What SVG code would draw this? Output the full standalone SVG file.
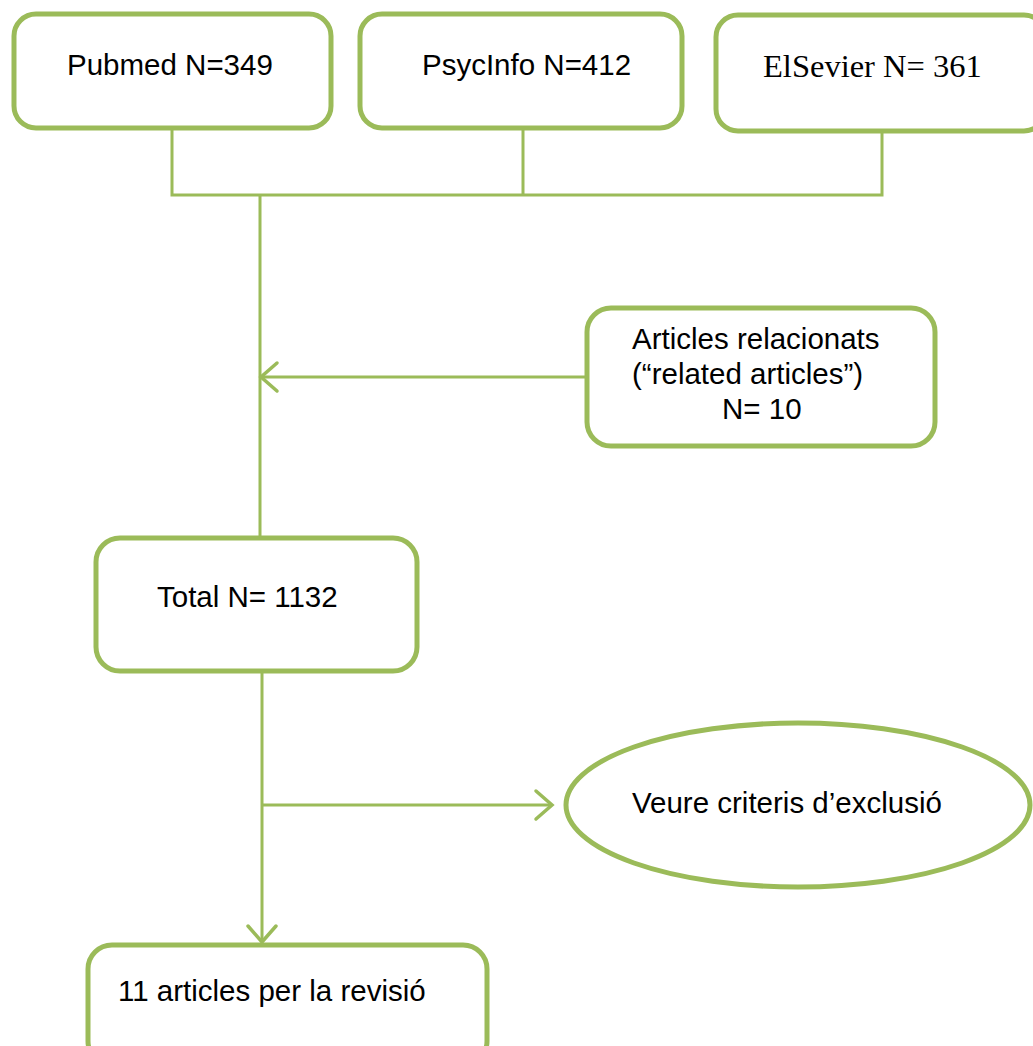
<svg xmlns="http://www.w3.org/2000/svg" width="1033" height="1046" viewBox="0 0 1033 1046">
<style>
.box{fill:#fff;stroke:#9BBB59;stroke-width:5}
.ln{fill:none;stroke:#9BBB59;stroke-width:3}
.t{font-family:"Liberation Sans",Arial,sans-serif;font-size:29.5px;fill:#000}
.ts{font-family:"Liberation Serif","Times New Roman",serif;font-size:32.5px;fill:#000}
</style>
<defs>
<marker id="arr" markerUnits="userSpaceOnUse" markerWidth="26" markerHeight="34" refX="22" refY="17" orient="auto" viewBox="0 0 26 34">
<path d="M6,3 L22,17 L6,31" fill="none" stroke="#9BBB59" stroke-width="3.5" stroke-linecap="round"/>
</marker>
</defs>
<rect width="1033" height="1046" fill="#fff"/>
<g id="connectors">
<path class="ln" d="M172,128 V195 H882 V131 M523,128 V195 M260,195 V538"/>
<path class="ln" d="M587,377 H261" marker-end="url(#arr)"/>
<path class="ln" d="M262,672 V941"/>
<path class="ln" d="M262,941 V942" marker-end="url(#arr)"/>
<path class="ln" d="M262,805 H552" marker-end="url(#arr)"/>
</g>
<g id="pubmed">
<rect class="box" x="14" y="14" width="317" height="114" rx="22"/>
<text class="t" x="67" y="75">Pubmed N=349</text>
</g>
<g id="psycinfo">
<rect class="box" x="360" y="14" width="322" height="114" rx="22"/>
<text class="t" x="422" y="75">PsycInfo N=412</text>
</g>
<g id="elsevier">
<rect class="box" x="716" y="15" width="330" height="116" rx="22"/>
<text class="ts" x="763" y="77">ElSevier N= 361</text>
</g>
<g id="related">
<rect class="box" x="587" y="308" width="348" height="138" rx="24"/>
<text class="t" x="632" y="349">Articles relacionats</text>
<text class="t" x="632" y="384">(“related articles”)</text>
<text class="t" x="722" y="419">N= 10</text>
</g>
<g id="total">
<rect class="box" x="96" y="538" width="321" height="133" rx="24"/>
<text class="t" x="157" y="607">Total N= 1132</text>
</g>
<g id="exclusio">
<ellipse class="box" cx="798" cy="805" rx="232" ry="82"/>
<text class="t" x="632" y="813">Veure criteris d’exclusió</text>
</g>
<g id="final">
<rect class="box" x="88" y="945" width="399" height="120" rx="24"/>
<text class="t" x="118" y="1001">11 articles per la revisió</text>
</g>
</svg>
